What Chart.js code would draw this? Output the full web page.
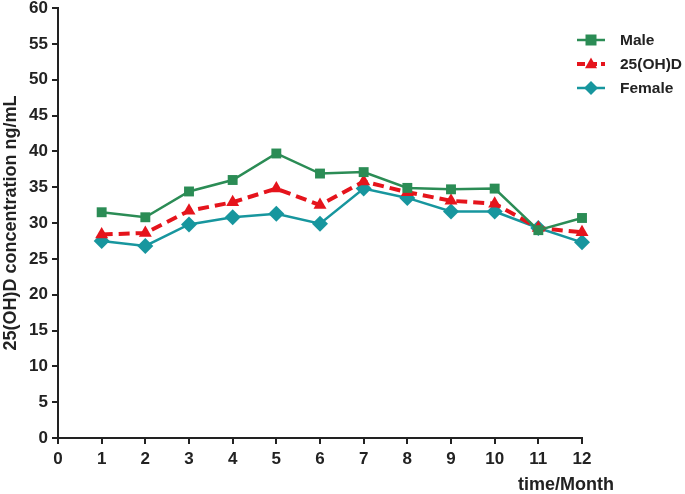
<!DOCTYPE html>
<html lang="en">
<head>
    <meta charset="UTF-8">
    <title>25(OH)D concentration by month</title>
    <script src="https://cdn.jsdelivr.net/npm/chart.js"></script>
    <style>
        html, body { margin: 0; padding: 0; background: #fff; }
        #wrap { width: 685px; height: 494px; }
    </style>
</head>
<body>
    <div id="wrap"><canvas id="vitChart" width="685" height="494"></canvas></div>
    <script>
        // data
        const months = [1, 2, 3, 4, 5, 6, 7, 8, 9, 10, 11, 12];
        const male = [31.5, 30.8, 34.4, 36.0, 39.7, 36.9, 37.1, 34.9, 34.7, 34.8, 29.0, 30.7];
        const total = [28.4, 28.6, 31.7, 32.9, 34.8, 32.5, 35.8, 34.3, 33.1, 32.7, 29.3, 28.7];
        const female = [27.5, 26.8, 29.8, 30.8, 31.3, 29.9, 34.8, 33.5, 31.6, 31.6, 29.3, 27.3];
        const seriesNames = ['Male', '25(OH)D', 'Female'];
        const xTitle = 'time/Month';
        const yTitle = '25(OH)D concentration ng/mL';

        const FONT = "'Liberation Sans', Arial, sans-serif";
        const colMale = '#2b8c55';
        const colTotal = '#e5141c';
        const colFemale = '#17969e';

        function pts(arr) {
            return arr.map((v, i) => ({ x: months[i], y: v }));
        }

        function marker(ctx, style, x, y, r) {
            ctx.beginPath();
            if (style === 'rect') {
                ctx.rect(x - r, y - r, 2 * r, 2 * r);
            } else if (style === 'triangle') {
                ctx.moveTo(x, y - r * 1.1);
                ctx.lineTo(x + r, y + r * 0.7);
                ctx.lineTo(x - r, y + r * 0.7);
                ctx.closePath();
            } else {
                ctx.moveTo(x, y - r);
                ctx.lineTo(x + r, y);
                ctx.lineTo(x, y + r);
                ctx.lineTo(x - r, y);
                ctx.closePath();
            }
            ctx.fill();
        }

        // legend with line + marker, and the x title right of the axis
        const extras = {
            id: 'extras',
            afterDraw(chart) {
                const ctx = chart.ctx;
                const items = [
                    { c: colMale, s: 'rect', r: 5.5, w: 2.5, dash: [] },
                    { c: colTotal, s: 'triangle', r: 6, w: 4, dash: [8, 4] },
                    { c: colFemale, s: 'diamond', r: 7, w: 2.5, dash: [] }
                ];
                ctx.save();
                items.forEach((it, i) => {
                    const y = 40 + i * 24;
                    ctx.strokeStyle = it.c;
                    ctx.fillStyle = it.c;
                    ctx.lineWidth = it.w;
                    ctx.setLineDash(it.dash);
                    ctx.beginPath();
                    ctx.moveTo(577, y);
                    ctx.lineTo(605, y);
                    ctx.stroke();
                    ctx.setLineDash([]);
                    marker(ctx, it.s, 591, y, it.r);
                    ctx.fillStyle = '#222';
                    ctx.font = 'bold 15.5px ' + FONT;
                    ctx.textAlign = 'left';
                    ctx.textBaseline = 'middle';
                    ctx.fillText(seriesNames[i], 620, y + 1);
                });
                ctx.font = 'bold 18px ' + FONT;
                ctx.textAlign = 'left';
                ctx.textBaseline = 'middle';
                ctx.fillStyle = '#222';
                ctx.fillText(xTitle, 518, 485);
                ctx.restore();
            }
        };

        new Chart(document.getElementById('vitChart'), {
            type: 'line',
            data: {
                datasets: [
                    {
                        label: seriesNames[0],
                        data: pts(male),
                        borderColor: colMale,
                        backgroundColor: colMale,
                        borderWidth: 2.5,
                        pointStyle: 'rect',
                        pointRadius: 7,
                        pointBorderWidth: 0,
                        clip: false
                    },
                    {
                        label: seriesNames[1],
                        data: pts(total),
                        borderColor: colTotal,
                        backgroundColor: colTotal,
                        borderWidth: 4,
                        borderDash: [11, 6],
                        pointStyle: 'triangle',
                        pointRadius: 7.5,
                        pointBorderWidth: 0,
                        clip: false
                    },
                    {
                        label: seriesNames[2],
                        data: pts(female),
                        borderColor: colFemale,
                        backgroundColor: colFemale,
                        borderWidth: 2.5,
                        pointStyle: 'rectRot',
                        pointRadius: 8,
                        pointBorderWidth: 0,
                        clip: false
                    }
                ]
            },
            options: {
                responsive: false,
                animation: false,
                layout: { padding: { top: 0, right: 103, left: 0, bottom: 0 } },
                plugins: {
                    legend: { display: false },
                    tooltip: { enabled: false }
                },
                scales: {
                    x: {
                        type: 'linear',
                        min: 0,
                        max: 12,
                        afterFit(scale) { scale.height = 56; },
                        border: { color: '#222', width: 2 },
                        grid: { drawOnChartArea: false, tickLength: 6, color: '#222', lineWidth: 2 },
                        ticks: {
                            stepSize: 1,
                            padding: 5,
                            color: '#222',
                            font: { family: FONT, size: 17, weight: 'bold' }
                        }
                    },
                    y: {
                        min: 0,
                        max: 60,
                        afterFit(scale) {
                            scale.width = 58;
                            scale.paddingTop = 8;
                        },
                        border: { color: '#222', width: 2 },
                        grid: { drawOnChartArea: false, tickLength: 6, color: '#222', lineWidth: 2 },
                        title: {
                            display: true,
                            text: yTitle,
                            color: '#222',
                            padding: 0,
                            font: { family: FONT, size: 18, weight: 'bold' }
                        },
                        ticks: {
                            stepSize: 5,
                            padding: 4,
                            color: '#222',
                            font: { family: FONT, size: 17, weight: 'bold' }
                        }
                    }
                }
            },
            plugins: [extras]
        });
    </script>
</body>
</html>
